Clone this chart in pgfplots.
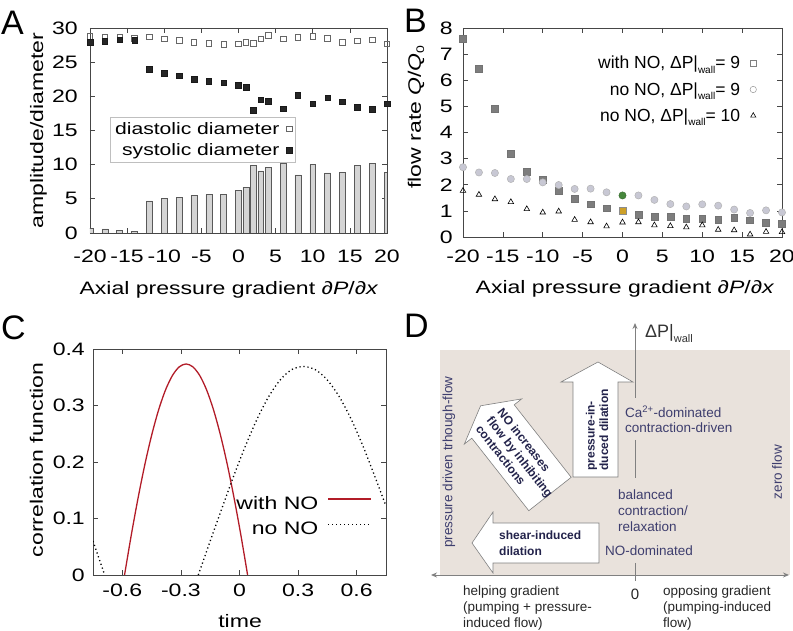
\documentclass[border=0pt]{standalone}
\usepackage{fontspec}
\setmainfont{Liberation Sans}[FakeStretch=1.28]
\newfontfamily\dfont{Liberation Sans}
\usepackage{pgfplots}
\pgfplotsset{compat=1.18}
\usetikzlibrary{arrows.meta}

\definecolor{beige}{RGB}{233,226,220}
\definecolor{navy}{RGB}{62,62,110}
\definecolor{dnavy}{RGB}{35,35,75}
\definecolor{axgray}{RGB}{70,70,70}
\definecolor{bargray}{RGB}{212,212,212}
\definecolor{sqgray}{RGB}{125,125,125}
\definecolor{cgray}{RGB}{200,200,212}
\definecolor{cred}{RGB}{178,28,40}
\definecolor{gold}{RGB}{205,160,40}
\definecolor{dgreen}{RGB}{70,135,60}

\newcommand{\fs}[1]{\fontsize{#1}{#1}\selectfont}

\pgfplotsset{panel/.style={
  scale only axis, clip mode=individual,
  axis line style={axgray, line width=0.8pt},
  tick align=inside, major tick length=5pt,
  tick style={axgray, line width=0.7pt},
  tick label style={font=\fs{18}, inner sep=0pt},
  label style={font=\fs{18}, inner sep=0pt},
}}

\begin{document}
\begin{tikzpicture}[x=1pt,y=1pt]
\useasboundingbox (0,0) rectangle (793,631);

% ---------------- Panel A
\begin{axis}[panel, at={(90pt,398pt)}, anchor=south west, width=297pt, height=205pt,
 xmin=-20,xmax=20,ymin=0,ymax=30,
 xtick={-20,-15,-10,-5,0,5,10,15,20}, xticklabels={-20,-15,-10,-5,0,5,10,15,20},
 ytick={0,5,10,15,20,25,30}, yticklabels={0,5,10,15,20,25,30},
 xticklabel style={anchor=base, yshift=-30pt},
 yticklabel style={anchor=east, xshift=-12pt},
 xlabel={Axial pressure gradient ∂\textit{P}/∂\textit{x}},
 xlabel style={at={(axis description cs:0.468,-0.302)}, anchor=base},
 ylabel={amplitude/diameter},
 ylabel style={at={(axis description cs:-0.158,0.5)}, anchor=base},
 legend style={at={(axis description cs:0.067,0.566)}, anchor=north west, draw=black!25, fill=white, font=\fs{16.5}, inner xsep=3pt, inner ysep=3pt, row sep=4pt, column sep=5pt, cells={anchor=east}},
 legend plot pos=right,
]
\addplot[ybar, bar width=0.8, fill=bargray, draw=black!65, line width=0.5pt, forget plot] coordinates {
(-20,0.7) (-18,0.6) (-16,0.35) (-14,0.2) (-12,4.7) (-10,5.1) (-8,5.2) (-6,5.5) (-4,5.6) (-2,5.6)
(0,6.2) (1,6.7) (2,9.85) (3,9.1) (4,9.65) (6,10.2) (8,8.5) (10,10.0) (12,8.8) (14,8.9) (16,9.85) (18,10.2) (20,8.9)};
\addplot[only marks, mark=square, mark size=2.8pt, mark options={draw=black!60, line width=0.6pt}] coordinates {
(-20,28.8) (-18,28.6) (-16,28.6) (-14,28.5) (-12,28.7) (-10,28.4) (-8,28.2) (-6,27.9) (-4,27.8) (-2,27.6)
(0,27.7) (1,27.95) (2,27.8) (3,28.4) (4,28.9) (6,28.4) (8,28.6) (10,28.8) (12,28.5) (14,27.95) (16,28.1) (18,28.3) (20,27.7)};
\addlegendentry{diastolic diameter}
\addplot[only marks, mark=square*, mark size=2.8pt, mark options={draw=black!90, fill=black!85}] coordinates {
(-20,27.9) (-18,28.05) (-16,28.3) (-14,28.2) (-12,23.95) (-10,23.4) (-8,23.0) (-6,22.5) (-4,22.2) (-2,22.0)
(0,21.6) (1,21.3) (2,18.0) (3,19.5) (4,19.3) (6,18.2) (8,20.2) (10,18.9) (12,19.8) (14,19.2) (16,18.4) (18,18.1) (20,18.9)};
\addlegendentry{systolic diameter}
\end{axis}

% ---------------- Panel B
\begin{axis}[panel, at={(463pt,394pt)}, anchor=south west, width=319pt, height=209pt,
 xmin=-20,xmax=20,ymin=0,ymax=8,
 xtick={-20,-15,-10,-5,0,5,10,15,20}, xticklabels={-20,-15,-10,-5,0,5,10,15,20},
 ytick={0,1,2,3,4,5,6,7,8}, yticklabels={0,1,2,3,4,5,6,7,8},
 xticklabel style={anchor=base, yshift=-26pt},
 yticklabel style={anchor=east, xshift=-10pt},
 xlabel={Axial pressure gradient ∂\textit{P}/∂\textit{x}},
 xlabel style={at={(axis description cs:0.508,-0.268)}, anchor=base},
 ylabel={flow rate \textit{Q}/\textit{Q}\raisebox{-0.35ex}{\fs{11}0}},
 ylabel style={at={(axis description cs:-0.132,0.574)}, anchor=base},
 legend style={at={(axis description cs:0.93,0.885)}, anchor=north east, draw=none, fill=none, font=\dfont\fs{17.5}, row sep=8pt, column sep=8pt, cells={anchor=east}},
 legend plot pos=right,
]
\addlegendimage{only marks, mark=square, mark size=3pt, mark options={draw=black!50, line width=0.5pt}}
\addlegendentry{with NO, ΔP|\raisebox{-0.5ex}{\fs{10}wall}= 9}
\addlegendimage{only marks, mark=o, mark size=3.2pt, mark options={draw=black!40, line width=0.5pt}}
\addlegendentry{no NO, ΔP|\raisebox{-0.5ex}{\fs{10}wall}= 9}
\addlegendimage{only marks, mark=triangle, mark size=3pt, mark options={draw=black, line width=0.6pt}}
\addlegendentry{no NO, ΔP|\raisebox{-0.5ex}{\fs{10}wall}= 10}
\addplot[only marks, mark=square*, mark size=3.4pt, mark options={draw=black!55, fill=sqgray, line width=0.5pt}, forget plot] coordinates {
(-20,7.59) (-18,6.43) (-16,4.91) (-14,3.19) (-12,2.51) (-10,2.19) (-8,1.77) (-6,1.45) (-4,1.25) (-2,1.10)
(2,0.85) (4,0.78) (6,0.78) (8,0.70) (10,0.70) (12,0.65) (14,0.74) (16,0.64) (18,0.56) (20,0.51)};
\addplot[only marks, mark=square*, mark size=3.4pt, mark options={draw=black!45, fill=gold, line width=0.5pt}, forget plot] coordinates {(0,0.99)};
\addplot[only marks, mark=*, mark size=3.6pt, mark options={draw=black!30, fill=cgray, line width=0.5pt}, forget plot] coordinates {
(-20,2.67) (-18,2.47) (-16,2.45) (-14,2.22) (-12,2.22) (-10,2.09) (-8,1.99) (-6,1.84) (-4,1.85) (-2,1.71)
(2,1.59) (4,1.42) (6,1.26) (8,1.17) (10,1.25) (12,1.20) (14,1.05) (16,0.92) (18,1.02) (20,0.94)};
\addplot[only marks, mark=*, mark size=3.6pt, mark options={draw=dgreen!80!black, fill=dgreen, line width=0.5pt}, forget plot] coordinates {(0,1.59)};
\addplot[only marks, mark=triangle, mark size=3.2pt, mark options={draw=black, line width=0.6pt}, forget plot] coordinates {
(-20,1.77) (-18,1.62) (-16,1.45) (-14,1.34) (-12,1.07) (-10,0.94) (-8,0.98) (-6,0.66) (-4,0.57) (-2,0.41)
(0,0.56) (2,0.57) (4,0.45) (6,0.42) (8,0.37) (10,0.45) (12,0.28) (14,0.26) (16,0.10) (18,0.20) (20,0.19)};
\end{axis}

% ---------------- Panel C
\begin{axis}[panel, at={(93pt,56pt)}, anchor=south west, width=293pt, height=226pt,
 xmin=-0.75,xmax=0.75,ymin=0,ymax=0.4,
 xtick={-0.6,-0.3,0,0.3,0.6}, xticklabels={-0.6,-0.3,0,0.3,0.6},
 ytick={0,0.1,0.2,0.3,0.4}, yticklabels={0,0.1,0.2,0.3,0.4},
 xticklabel style={anchor=base, yshift=-22pt},
 yticklabel style={anchor=east, xshift=-8pt},
 xlabel={time},
 xlabel style={at={(axis description cs:0.502,-0.2345)}, anchor=base},
 ylabel={correlation function},
 ylabel style={at={(axis description cs:-0.171,0.509)}, anchor=base},
 legend style={at={(axis description cs:0.962,0.365)}, anchor=north east, draw=none, fill=none, font=\fs{18}, row sep=7pt, column sep=7pt, cells={anchor=east}},
 legend plot pos=right,
]
\addlegendimage{legend image code/.code={\draw[cred, line width=1.3pt] (0pt,5pt) -- (43pt,5pt);}}
\addlegendentry{with NO}
\addlegendimage{legend image code/.code={\draw[black, line width=1.3pt, dash pattern=on 1.2pt off 2.8pt] (0pt,5pt) -- (43pt,5pt);}}
\addlegendentry{no NO}
\addplot[cred, line width=1.3pt, smooth, forget plot] coordinates {
(-0.5885,0) (-0.5535,0.0717) (-0.5185,0.1376) (-0.4835,0.1972) (-0.4485,0.2491) (-0.4135,0.2929)
(-0.3785,0.3277) (-0.3435,0.353) (-0.3085,0.3684) (-0.2735,0.3735) (-0.2385,0.3684) (-0.2035,0.353)
(-0.1685,0.3277) (-0.1335,0.2929) (-0.0985,0.2491) (-0.0635,0.1972) (-0.0285,0.1376) (0.0065,0.0717) (0.0415,0)};
\addplot[black, line width=1.3pt, dash pattern=on 1.2pt off 2.8pt, smooth, forget plot] coordinates {
(-0.211,0) (-0.15,0.060) (-0.09,0.118) (-0.03,0.175) (0.03,0.228) (0.09,0.276) (0.15,0.316) (0.21,0.346)
(0.27,0.364) (0.33,0.369) (0.39,0.363) (0.45,0.345) (0.51,0.316) (0.57,0.277) (0.63,0.230) (0.69,0.177) (0.75,0.122)};
\addplot[black, line width=1.3pt, dash pattern=on 1.2pt off 2.8pt, forget plot] coordinates {
(-0.75,0.06) (-0.72,0.03) (-0.69,0)};
\end{axis}

% ---------------- panel letters
\node[anchor=base west, inner sep=0, font=\dfont\fs{34}] at (1,596) {A};
\node[anchor=base west, inner sep=0, font=\dfont\fs{34}] at (404,598) {B};
\node[anchor=base west, inner sep=0, font=\dfont\fs{34}] at (1,291) {C};
\node[anchor=base west, inner sep=0, font=\dfont\fs{34}] at (404,293) {D};

% ---------------- Panel D (diagram)
\begin{scope}[x=1pt, y=-1pt, yshift=631pt]
\fill[beige] (440,350) rectangle (790,575);
\draw[gray, line width=0.9pt, {Stealth[length=6pt,width=5pt]}-{Stealth[length=6pt,width=5pt]}] (431,575) -- (789,575);
\draw[gray, line width=0.9pt, -{Stealth[length=6pt,width=5pt]}] (635,398) -- (635,323);
\draw[gray, line width=0.9pt] (635,440) -- (635,478);
\draw[gray, line width=0.9pt] (635,563) -- (635,581);

% arrows
\draw[fill=white, draw=black!50, line width=0.6pt] (599,523) -- (493,523) -- (493,512) -- (472,543) -- (493,573) -- (493,563) -- (599,563) -- cycle;
\draw[fill=white, draw=black!50, line width=0.6pt] (573,477) -- (573,382) -- (561,382) -- (598,362) -- (633,382) -- (618,382) -- (618,477) -- cycle;
\draw[fill=white, draw=black!50, line width=0.6pt] (528.8,510.7) -- (471.8,438.2) -- (464.3,444.1) -- (480.6,405.8) -- (521.7,398.9) -- (514.2,404.8) -- (571.2,477.3) -- cycle;

\node[anchor=west, align=left, inner sep=0, text=dnavy, font={\dfont\bfseries\fontsize{12}{15.5}\selectfont}] at (499,543) {shear-induced\\dilation};
\node[rotate=90, align=left, inner sep=0, text=dnavy, font={\dfont\bfseries\fontsize{12}{13.5}\selectfont}] at (597,430) {pressure-in-\\duced dilation};
\node[rotate=-51.8, align=left, inner sep=0, text=dnavy, font={\dfont\bfseries\fontsize{12}{13.8}\selectfont}] at (520,457) {NO increases\\flow by inhibiting\\contractions};

\node[anchor=base west, inner sep=0, text=black!80, font=\dfont\fs{18}] at (645,338) {ΔP|\raisebox{-0.5ex}{\fs{11}wall}};

\node[anchor=west, align=left, inner sep=0, text=navy, font={\dfont\fontsize{13.5}{15}\selectfont}] at (625,419.5) {Ca\textsuperscript{2+}-dominated\\contraction-driven};
\node[anchor=west, align=left, inner sep=0, text=navy, font={\dfont\fontsize{13.5}{16}\selectfont}] at (618,511) {balanced\\contraction/\\relaxation};
\node[anchor=west, inner sep=0, text=navy, font={\dfont\fs{13.5}}] at (605,551) {NO-dominated};
\node[rotate=90, inner sep=0, text=navy, font={\dfont\fs{13.5}}] at (777,472) {zero flow};
\node[rotate=90, inner sep=0, text=navy, font={\dfont\fs{13.5}}] at (449,462) {pressure driven trhough-flow};

\node[anchor=north west, align=left, inner sep=0, text=black!85, font={\dfont\fontsize{13.5}{16}\selectfont}] at (463,586) {helping gradient\\(pumping + pressure-\\induced flow)};
\node[anchor=base, inner sep=0, text=black!85, font={\dfont\fs{15}}] at (635,600) {0};
\node[anchor=north west, align=left, inner sep=0, text=black!85, font={\dfont\fontsize{13.5}{16}\selectfont}] at (663,586) {opposing gradient\\(pumping-induced\\flow)};
\end{scope}
\end{tikzpicture}
\end{document}
